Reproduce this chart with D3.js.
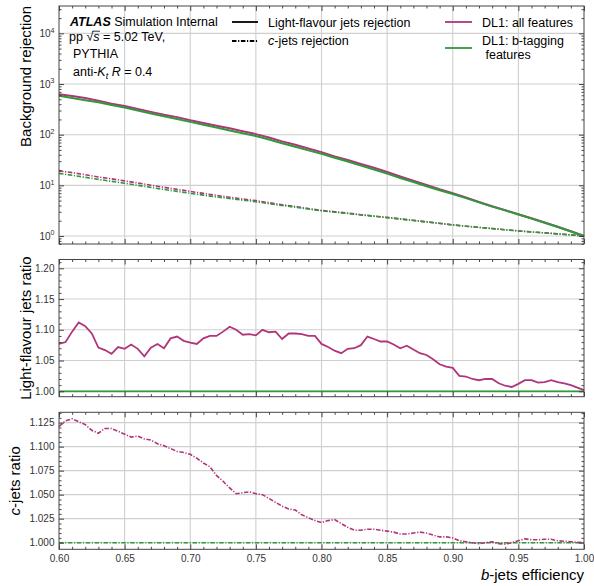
<!DOCTYPE html>
<html>
<head>
<meta charset="utf-8">
<script src="https://cdn.jsdelivr.net/npm/d3@7"></script>
<style>
    body { margin: 0; background: #fff; }
    #chart text { font-family: "Liberation Sans", Arial, Helvetica, sans-serif; }
    #chart .tick text { font-size: 10px; fill: #333; }
</style>
</head>
<body>
<svg id="chart" width="594" height="586"></svg>
<script>
    // b-jet efficiency grid of the ratio curves (step 0.005)
    const effFine = [
        0.600, 0.605, 0.610, 0.615, 0.620, 0.625, 0.630, 0.635, 0.640, 0.645,
        0.650, 0.655, 0.660, 0.665, 0.670, 0.675, 0.680, 0.685, 0.690, 0.695,
        0.700, 0.705, 0.710, 0.715, 0.720, 0.725, 0.730, 0.735, 0.740, 0.745,
        0.750, 0.755, 0.760, 0.765, 0.770, 0.775, 0.780, 0.785, 0.790, 0.795,
        0.800, 0.805, 0.810, 0.815, 0.820, 0.825, 0.830, 0.835, 0.840, 0.845,
        0.850, 0.855, 0.860, 0.865, 0.870, 0.875, 0.880, 0.885, 0.890, 0.895,
        0.900, 0.905, 0.910, 0.915, 0.920, 0.925, 0.930, 0.935, 0.940, 0.945,
        0.950, 0.955, 0.960, 0.965, 0.970, 0.975, 0.980, 0.985, 0.990, 0.995,
        1.000
    ];

    // b-jet efficiency grid of the rejection curves (step 0.01)
    const effCoarse = [
        0.60, 0.61, 0.62, 0.63, 0.64, 0.65, 0.66, 0.67, 0.68, 0.69,
        0.70, 0.71, 0.72, 0.73, 0.74, 0.75, 0.76, 0.77, 0.78, 0.79,
        0.80, 0.81, 0.82, 0.83, 0.84, 0.85, 0.86, 0.87, 0.88, 0.89,
        0.90, 0.91, 0.92, 0.93, 0.94, 0.95, 0.96, 0.97, 0.98, 0.99,
        1.00
    ];

    // DL1 b-tagging features: light-flavour rejection
    const lightRejBtag = [
        585, 530, 480, 435, 385, 344, 300, 263, 232, 204,
        179, 157, 138, 121, 107, 94, 80, 68, 58, 49,
        42, 35, 29.5, 24.5, 20.5, 17, 14, 11.6, 9.6, 8.0,
        6.75, 5.6, 4.6, 3.8, 3.2, 2.65, 2.2, 1.82, 1.5, 1.23,
        1.0
    ];

    // DL1 b-tagging features: c-jets rejection
    const cRejBtag = [
        17.2, 15.8, 14.4, 13.1, 12.0, 11.0, 10.0, 9.1, 8.3, 7.6,
        6.95, 6.4, 5.9, 5.5, 5.1, 4.75, 4.35, 4.0, 3.7, 3.4,
        3.13, 2.95, 2.78, 2.6, 2.45, 2.30, 2.16, 2.02, 1.89, 1.77,
        1.65, 1.56, 1.48, 1.40, 1.33, 1.26, 1.2, 1.15, 1.1, 1.05,
        1.0
    ];

    // all features / b-tagging features, light-flavour rejection
    const lightRatio = [
        1.077, 1.080, 1.097, 1.112, 1.106, 1.094, 1.071, 1.067, 1.061, 1.072,
        1.069, 1.076, 1.069, 1.057, 1.071, 1.077, 1.070, 1.086, 1.089, 1.082,
        1.079, 1.077, 1.086, 1.090, 1.090, 1.097, 1.105, 1.100, 1.092, 1.093,
        1.091, 1.100, 1.096, 1.097, 1.085, 1.094, 1.094, 1.093, 1.090, 1.090,
        1.077, 1.072, 1.066, 1.062, 1.069, 1.070, 1.075, 1.089, 1.085, 1.081,
        1.081, 1.076, 1.070, 1.074, 1.068, 1.062, 1.059, 1.052, 1.044, 1.040,
        1.038, 1.025, 1.024, 1.020, 1.018, 1.020, 1.020, 1.013, 1.009, 1.007,
        1.012, 1.018, 1.018, 1.014, 1.015, 1.018, 1.015, 1.013, 1.010, 1.006,
        1.002
    ];

    // all features / b-tagging features, c-jets rejection
    const cRatio = [
        1.121, 1.127, 1.129, 1.126, 1.123, 1.117, 1.114, 1.119, 1.119, 1.116,
        1.113, 1.110, 1.111, 1.108, 1.107, 1.103, 1.101, 1.098, 1.095, 1.094,
        1.092, 1.088, 1.083, 1.079, 1.070, 1.064, 1.057, 1.051, 1.052, 1.053,
        1.051, 1.050, 1.046, 1.042, 1.038, 1.035, 1.034, 1.029, 1.026, 1.023,
        1.021, 1.023, 1.024, 1.020, 1.016, 1.013, 1.013, 1.014, 1.014, 1.013,
        1.012, 1.011, 1.009, 1.009, 1.010, 1.011, 1.010, 1.008, 1.006, 1.006,
        1.005, 1.002, 1.001, 1.000, 0.999, 1.000, 1.001, 0.999, 0.9985, 1.000,
        1.002, 1.004, 1.003, 1.003, 1.0035, 1.0035, 1.002, 1.0015, 1.001, 1.0005,
        1.000
    ];

    const xTicks = [0.60, 0.65, 0.70, 0.75, 0.80, 0.85, 0.90, 0.95, 1.00];
    const rejTicks = [1, 10, 100, 1000, 10000];
    const lightRatioTicks = [1.00, 1.05, 1.10, 1.15, 1.20];
    const cRatioTicks = [1.000, 1.025, 1.050, 1.075, 1.100, 1.125];

    const purple = "#b0357a";
    const green = "#2e9a3a";
    const dashDot = "4.5,1.6,1.2,1.6";

    const svg = d3.select("#chart");
    const left = 59, right = 584;

    const x = d3.scaleLinear().domain([0.6, 1.0]).range([left, right]);
    const xMinor = d3.range(60, 101).map(v => v / 100).filter(v => Math.round(v * 100) % 5 !== 0);

    const yRej = d3.scaleLog().domain([Math.pow(10, -0.158), Math.pow(10, 4.54)]).range([244, 6]);
    const yLight = d3.scaleLinear().domain([0.9912, 1.2143]).range([396.7, 259.5]);
    const yC = d3.scaleLinear().domain([0.9931, 1.1358]).range([549.3, 412.3]);

    const rejMinor = [];
    [0.1, 1, 10, 100, 1000, 10000].forEach(p => {
        for (let k = 2; k <= 9; k++) {
            const v = p * k;
            if (v > yRej.domain()[0] && v < yRej.domain()[1]) rejMinor.push(v);
        }
    });
    const lightMinor = d3.range(100, 122).map(v => v / 100).filter(v => Math.round(v * 100) % 5 !== 0);
    const cMinor = d3.range(200, 228).map(v => v / 200).filter(v => Math.round(v * 200) % 5 !== 0);

    function panel(y, major, minor, fmt, showX) {
        const [bottom, top] = y.range();
        const g = svg.append("g");

        // grid
        const grid = g.append("g").attr("stroke", "#cfcfcf").attr("stroke-width", 1.1);
        grid.selectAll("line.gx")
            .data(xTicks.slice(1, -1))
            .enter().append("line")
            .attr("x1", d => x(d)).attr("x2", d => x(d))
            .attr("y1", top).attr("y2", bottom);
        grid.selectAll("line.gy")
            .data(major)
            .enter().append("line")
            .attr("x1", left).attr("x2", right)
            .attr("y1", d => y(d)).attr("y2", d => y(d));

        const lines = g.append("g").attr("fill", "none");

        // ticks
        const axes = g.append("g").attr("class", "axes");
        axes.append("g").attr("transform", "translate(" + left + ",0)")
            .call(d3.axisLeft(y).tickValues(major).tickSize(-5).tickPadding(4.5).tickFormat(fmt));
        axes.append("g").attr("transform", "translate(" + left + ",0)")
            .call(d3.axisLeft(y).tickValues(minor).tickSize(-2.5).tickFormat(""));
        axes.append("g").attr("transform", "translate(" + right + ",0)")
            .call(d3.axisRight(y).tickValues(major).tickSize(-5).tickFormat(""));
        axes.append("g").attr("transform", "translate(" + right + ",0)")
            .call(d3.axisRight(y).tickValues(minor).tickSize(-2.5).tickFormat(""));
        axes.append("g").attr("transform", "translate(0," + bottom + ")")
            .call(d3.axisBottom(x).tickValues(xTicks).tickSize(-5).tickPadding(5.5)
                .tickFormat(showX ? d3.format(".2f") : ""));
        axes.append("g").attr("transform", "translate(0," + bottom + ")")
            .call(d3.axisBottom(x).tickValues(xMinor).tickSize(-2.5).tickFormat(""));
        axes.append("g").attr("transform", "translate(0," + top + ")")
            .call(d3.axisTop(x).tickValues(xTicks).tickSize(-5).tickFormat(""));
        axes.append("g").attr("transform", "translate(0," + top + ")")
            .call(d3.axisTop(x).tickValues(xMinor).tickSize(-2.5).tickFormat(""));
        axes.selectAll(".domain").remove();
        axes.selectAll(".tick line").attr("stroke", "#333").attr("stroke-width", 0.9);
        axes.selectAll("text").attr("font-family", null).attr("font-size", null);

        g.append("rect")
            .attr("x", left).attr("y", top)
            .attr("width", right - left).attr("height", bottom - top)
            .attr("fill", "none").attr("stroke", "#444").attr("stroke-width", 1);

        return {g: g, lines: lines, axes: axes};
    }

    function drawLine(target, xs, ys, y, color, width, dash) {
        const line = d3.line().x(d => x(d[0])).y(d => y(d[1]));
        target.append("path")
            .datum(xs.map((v, i) => [v, ys[i]]))
            .attr("d", line)
            .attr("stroke", color)
            .attr("stroke-width", width)
            .attr("stroke-dasharray", dash || null);
    }

    // top panel: rejections
    const lightRejAll = lightRejBtag.map((v, i) => v * lightRatio[i * 2]);
    const cRejAll = cRejBtag.map((v, i) => v * cRatio[i * 2]);

    const p1 = panel(yRej, rejTicks, rejMinor, () => "", false);
    drawLine(p1.lines, effCoarse, lightRejAll, yRej, purple, 2);
    drawLine(p1.lines, effCoarse, lightRejBtag, yRej, green, 2);
    drawLine(p1.lines, effCoarse, cRejAll, yRej, purple, 1.6, dashDot);
    drawLine(p1.lines, effCoarse, cRejBtag, yRej, green, 1.6, dashDot);

    p1.axes.select("g").selectAll(".tick text").each(function (d) {
        const t = d3.select(this);
        t.append("tspan").text("10");
        t.append("tspan").attr("dy", -4.5).attr("font-size", 7).text(Math.round(Math.log10(d)));
    });

    // middle panel: light-flavour ratio
    const p2 = panel(yLight, lightRatioTicks, lightMinor, d3.format(".2f"), false);
    drawLine(p2.lines, [0.6, 1.0], [1, 1], yLight, green, 1.8);
    drawLine(p2.lines, effFine, lightRatio, yLight, purple, 1.8);

    // bottom panel: c-jets ratio
    const p3 = panel(yC, cRatioTicks, cMinor, d3.format(".3f"), true);
    drawLine(p3.lines, [0.6, 1.0], [1, 1], yC, green, 1.6, dashDot);
    drawLine(p3.lines, effFine, cRatio, yC, purple, 1.6, dashDot);

    // axis titles
    svg.append("text")
        .attr("transform", "translate(31,6) rotate(-90)")
        .attr("text-anchor", "end")
        .attr("font-size", 15)
        .text("Background rejection");
    svg.append("text")
        .attr("transform", "translate(31," + ((259.5 + 396.7) / 2) + ") rotate(-90)")
        .attr("text-anchor", "middle")
        .attr("font-size", 15)
        .text("Light-flavour jets ratio");
    const cTitle = svg.append("text")
        .attr("transform", "translate(20," + ((412.3 + 549.3) / 2) + ") rotate(-90)")
        .attr("text-anchor", "middle")
        .attr("font-size", 15);
    cTitle.append("tspan").attr("font-style", "italic").text("c");
    cTitle.append("tspan").text("-jets ratio");

    const xTitle = svg.append("text")
        .attr("x", right).attr("y", 580)
        .attr("text-anchor", "end")
        .attr("font-size", 15);
    xTitle.append("tspan").attr("font-style", "italic").text("b");
    xTitle.append("tspan").text("-jets efficiency");

    // ATLAS label
    const fs = 12.5;
    const atlas = svg.append("text").attr("x", 70).attr("y", 26).attr("font-size", fs);
    atlas.append("tspan").attr("font-weight", "bold").attr("font-style", "italic").text("ATLAS");
    atlas.append("tspan").text(" Simulation Internal");

    const pp = svg.append("text").attr("x", 69).attr("y", 41).attr("font-size", fs);
    pp.append("tspan").text("pp \u221A");
    pp.append("tspan").attr("font-style", "italic").text("s");
    pp.append("tspan").text(" = 5.02 TeV,");
    // overline of the square root over "s"
    const sExt = pp.node().getExtentOfChar(4);
    const rootExt = pp.node().getExtentOfChar(3);
    svg.append("line")
        .attr("x1", rootExt.x + rootExt.width - 0.8).attr("x2", sExt.x + sExt.width + 0.5)
        .attr("y1", rootExt.y + 1.2).attr("y2", rootExt.y + 1.2)
        .attr("stroke", "#000").attr("stroke-width", 0.8);

    svg.append("text").attr("x", 73).attr("y", 58).attr("font-size", fs).text("PYTHIA");

    const anti = svg.append("text").attr("x", 73).attr("y", 76).attr("font-size", fs);
    anti.append("tspan").text("anti-");
    anti.append("tspan").attr("font-style", "italic").text("K");
    anti.append("tspan").attr("font-style", "italic").attr("font-size", 9).attr("dy", 3).text("t");
    anti.append("tspan").attr("dy", -3).text("\u00A0");
    anti.append("tspan").attr("font-style", "italic").text("R");
    anti.append("tspan").text(" = 0.4");

    // legends
    const leg = svg.append("g");
    function legLine(x1, x2, yy, color, dash) {
        leg.append("line")
            .attr("x1", x1).attr("x2", x2).attr("y1", yy).attr("y2", yy)
            .attr("stroke", color).attr("stroke-width", 1.8)
            .attr("stroke-dasharray", dash || null);
    }
    legLine(232, 258, 22, "#000");
    leg.append("text").attr("x", 268).attr("y", 26.5).attr("font-size", fs).text("Light-flavour jets rejection");
    legLine(232, 258, 41, "#000", dashDot);
    const cLeg = leg.append("text").attr("x", 268).attr("y", 45).attr("font-size", fs);
    cLeg.append("tspan").attr("font-style", "italic").text("c");
    cLeg.append("tspan").text("-jets rejection");

    legLine(445, 472, 22, purple);
    leg.append("text").attr("x", 482).attr("y", 26.5).attr("font-size", fs).text("DL1: all features");
    legLine(445, 472, 48, green);
    leg.append("text").attr("x", 482).attr("y", 45).attr("font-size", fs).text("DL1: b-tagging");
    leg.append("text").attr("x", 482).attr("y", 58.5).attr("font-size", fs).text("\u00A0features");
</script>
</body>
</html>
